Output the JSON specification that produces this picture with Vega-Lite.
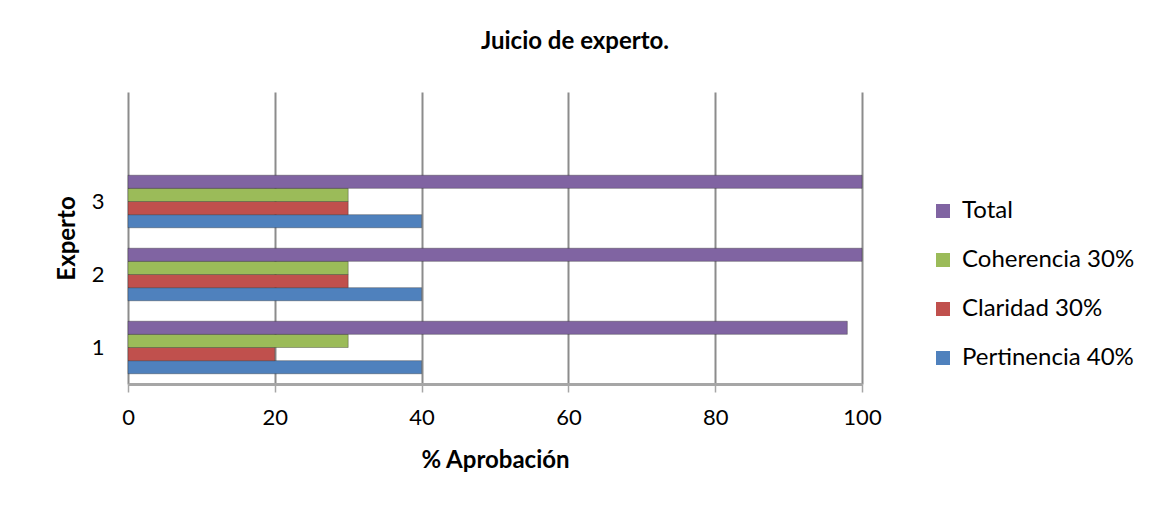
{
  "$schema": "https://vega.github.io/schema/vega-lite/v6.json",
  "width": 734,
  "height": 292,
  "autosize": "none",
  "padding": {"left": 128, "top": 92, "right": 287, "bottom": 124},
  "background": "white",
  "title": {"text": "Juicio de experto.", "font": "Lato", "fontSize": 24, "fontWeight": "bold", "color": "black", "anchor": "middle", "dx": 80, "offset": 38},
  "data": {"values": [
    {"Experto": "1", "Criterio": "Pertinencia 40%", "Valor": 40},
    {"Experto": "1", "Criterio": "Claridad 30%", "Valor": 20},
    {"Experto": "1", "Criterio": "Coherencia 30%", "Valor": 30},
    {"Experto": "1", "Criterio": "Total", "Valor": 98},
    {"Experto": "2", "Criterio": "Pertinencia 40%", "Valor": 40},
    {"Experto": "2", "Criterio": "Claridad 30%", "Valor": 30},
    {"Experto": "2", "Criterio": "Coherencia 30%", "Valor": 30},
    {"Experto": "2", "Criterio": "Total", "Valor": 100},
    {"Experto": "3", "Criterio": "Pertinencia 40%", "Valor": 40},
    {"Experto": "3", "Criterio": "Claridad 30%", "Valor": 30},
    {"Experto": "3", "Criterio": "Coherencia 30%", "Valor": 30},
    {"Experto": "3", "Criterio": "Total", "Valor": 100}
  ]},
  "mark": {"type": "bar", "stroke": "#222222", "strokeOpacity": 0.35, "strokeWidth": 1},
  "encoding": {
    "y": {
      "field": "Experto", "type": "nominal",
      "scale": {"domain": ["4", "3", "2", "1"], "paddingInner": 0.28, "paddingOuter": 0.14},
      "axis": {
        "title": "Experto", "titleFont": "Lato", "titleFontSize": 24, "titleFontWeight": "bold", "titleColor": "black", "titlePadding": 12,
        "labelFont": "Lato", "labelFontSize": 22, "labelColor": "black", "labelPadding": 24,
        "labelExpr": "datum.label == '4' ? '' : datum.label",
        "ticks": false, "domain": false, "grid": false
      }
    },
    "yOffset": {
      "field": "Criterio", "type": "nominal",
      "scale": {"domain": ["Total", "Coherencia 30%", "Claridad 30%", "Pertinencia 40%"], "paddingInner": 0}
    },
    "x": {
      "field": "Valor", "type": "quantitative",
      "scale": {"domain": [0, 100], "nice": false},
      "axis": {
        "title": "% Aprobación", "titleFont": "Lato", "titleFontSize": 24, "titleFontWeight": "bold", "titleColor": "black", "titlePadding": 20,
        "values": [0, 20, 40, 60, 80, 100],
        "labelFont": "Lato", "labelFontSize": 22, "labelColor": "black", "labelPadding": 15, "labelFlush": false,
        "grid": true, "gridColor": "#8c8c8c", "gridWidth": 2,
        "domainColor": "#a6a6a6", "domainWidth": 3,
        "tickColor": "#a6a6a6", "tickSize": 8, "tickWidth": 1.5
      }
    },
    "color": {
      "field": "Criterio", "type": "nominal",
      "scale": {"domain": ["Total", "Coherencia 30%", "Claridad 30%", "Pertinencia 40%"], "range": ["#8064A2", "#9BBB59", "#C0504D", "#4F81BD"]},
      "legend": {
        "orient": "none", "legendX": 803, "legendY": 107, "title": null,
        "symbolType": "square", "symbolSize": 196, "symbolStrokeWidth": 0,
        "labelFont": "Lato", "labelFontSize": 24, "labelColor": "black", "labelOffset": 7, "labelLimit": 400,
        "rowPadding": 25
      }
    }
  },
  "config": {"view": {"stroke": null}}
}
